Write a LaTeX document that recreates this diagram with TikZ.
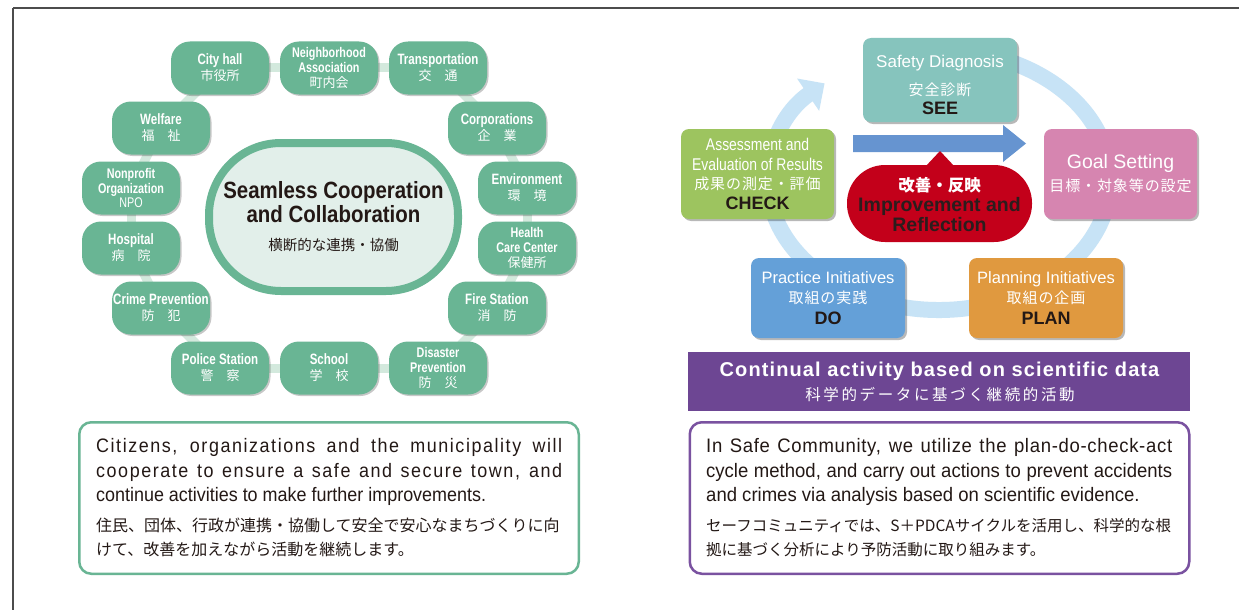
\documentclass[tikz,border=0pt]{standalone}
\usepackage{fontspec}
\setmainfont{Liberation Sans}
\newfontfamily\condfont[FakeStretch=0.77]{Liberation Sans}
\newfontfamily\chkfont[FakeStretch=0.82]{Liberation Sans}
\newfontfamily\bodyfont[FakeStretch=0.92]{Liberation Sans}
\newfontfamily\bodyrfont[FakeStretch=0.95]{Liberation Sans}
\newfontfamily\bodyrlsfont[FakeStretch=0.95,LetterSpace=3.5]{Liberation Sans}
\newfontfamily\bodylsfont[FakeStretch=0.92,LetterSpace=8]{Liberation Sans}
\newfontfamily\hubfont[FakeStretch=0.87]{Liberation Sans}
\newfontfamily\bannerfont[LetterSpace=5.5]{Liberation Sans}
\newfontfamily\jpfont{Noto Sans CJK JP}
\newfontfamily\jplfont[LetterSpace=6]{Noto Sans CJK JP}
\newfontfamily\jplsfont[LetterSpace=17]{Noto Sans CJK JP}
\usetikzlibrary{arrows.meta,shadows}
\pgfdeclarelayer{bg}
\pgfsetlayers{bg,main}
\definecolor{gbox}{HTML}{69B594}
\definecolor{gband}{HTML}{D3E9DD}
\definecolor{gcenter}{HTML}{E2EFEA}
\definecolor{txtdark}{HTML}{231815}
\definecolor{cSee}{HTML}{86C4BD}
\definecolor{cGoal}{HTML}{D685B0}
\definecolor{cCheck}{HTML}{9DC45F}
\definecolor{cDo}{HTML}{64A0D8}
\definecolor{cPlan}{HTML}{E0993F}
\definecolor{cRed}{HTML}{C3001A}
\definecolor{cPurple}{HTML}{6D4693}
\definecolor{cPurpleL}{HTML}{7A52A0}
\definecolor{cArrow}{HTML}{6694D0}
\definecolor{cRing}{HTML}{C7E3F6}
\definecolor{cImp}{HTML}{2B1D1D}
\newcommand\fsz[2]{\fontsize{#1}{#2}\selectfont}
\newcommand\jps[1]{{\jpfont\mdseries\fsz{13}{16}#1}}
\begin{document}
\begin{tikzpicture}[x=1pt,y=-1pt,
  gbx/.style={fill=gbox, rounded corners=19pt, minimum width=98pt, minimum height=53pt,
    inner sep=0pt, align=center, text=white, font=\condfont\bfseries\fsz{15}{16},
    drop shadow={shadow xshift=1.5pt, shadow yshift=-1.5pt, opacity=0.22, fill=black}},
  gbx3/.style={gbx, font=\condfont\bfseries\fsz{14}{14.8}},
  band/.style={draw=gband, line width=9pt},
  rbox/.style={rounded corners=8pt, inner sep=0pt,
    drop shadow={shadow xshift=2pt, shadow yshift=-2pt, opacity=0.28, fill=black}},
  rtxt/.style={align=center, inner sep=0pt, text=white},
  txt/.style={anchor=base west, inner sep=0pt, text=txtdark},
  ring/.style={draw=cRing, line width=16pt, -{Triangle[width=38pt,length=20pt]}},
  framel/.style={draw=black!70, line width=1.5pt}
]
\useasboundingbox (0,0) rectangle (1239,610);
\begin{pgfonlayer}{bg}
\fill[white] (0,0) rectangle (1239,610);
\end{pgfonlayer}
\draw[framel] (13,8) -- (1239,8);
\draw[framel] (13,8) -- (13,610);

% ---------------- left panel ----------------
\node[gbx] (city) at (220,68) {City hall\\\jps{市役所}};
\node[gbx3] (nbh) at (329,68) {Neighborhood\\Association\\\jps{町内会}};
\node[gbx] (trans) at (438,68) {Transportation\\\jps{交　通}};
\node[gbx] (corp) at (497,128) {Corporations\\\jps{企　業}};
\node[gbx] (env) at (527,188) {Environment\\\jps{環　境}};
\node[gbx3] (health) at (527,248) {Health\\Care Center\\\jps{保健所}};
\node[gbx] (fire) at (497,308) {Fire Station\\\jps{消　防}};
\node[gbx3] (dis) at (438,368) {Disaster\\Prevention\\\jps{防　災}};
\node[gbx] (school) at (329,368) {School\\\jps{学　校}};
\node[gbx] (police) at (220,368) {Police Station\\\jps{警　察}};
\node[gbx] (crime) at (161,308) {Crime Prevention\\\jps{防　犯}};
\node[gbx] (hosp) at (131,248) {Hospital\\\jps{病　院}};
\node[gbx3] (npo) at (131,188) {Nonprofit\\Organization\\{\condfont\mdseries NPO}};
\node[gbx] (welfare) at (161,128) {Welfare\\\jps{福　祉}};

\begin{pgfonlayer}{bg}
\foreach \a/\b in {city/nbh, nbh/trans, trans/corp, corp/env, env/health, health/fire,
  fire/dis, dis/school, school/police, police/crime, crime/hosp, hosp/npo, npo/welfare, welfare/city}
  \draw[band] (\a.center) -- (\b.center);
\end{pgfonlayer}

\node[draw=gbox, line width=8pt, fill=gcenter, rounded corners=72pt, minimum width=249pt,
  minimum height=148pt, inner sep=0pt, align=center, text=txtdark,
  font=\hubfont\bfseries\fsz{23.5}{23.5}] (hub) at (333.5,217)
  {Seamless Cooperation\\and Collaboration\\[5pt]{\jpfont\mdseries\fsz{14.5}{23.5}横断的な連携・協働}};

% bottom left text box
\node[draw=gbox, line width=2.5pt, rounded corners=12pt, minimum width=499.5pt,
  minimum height=151.5pt, inner sep=0pt] (lbox) at (329,498) {};
\node[txt, font=\bodylsfont\fsz{19.5}{20}] (l1) at (96,452)
  {\makebox[466pt][s]{Citizens, organizations and the municipality will}};
\node[txt, font=\bodylsfont\fsz{19.5}{20}] (l2) at (96,477)
  {\makebox[466pt][s]{cooperate to ensure a safe and secure town, and}};
\node[txt, font=\bodyfont\fsz{19.5}{20}] (l3) at (96,501)
  {continue activities to make further improvements.};
\node[txt, font=\jpfont\fsz{16}{20}] (l4) at (96,531)
  {住民、団体、行政が連携・協働して安全で安心なまちづくりに向};
\node[txt, font=\jpfont\fsz{16}{20}] (l5) at (96,555)
  {けて、改善を加えながら活動を継続します。};

% ---------------- right panel ----------------
\begin{pgfonlayer}{bg}
\draw[ring] (939,180) ++(-100:171 and 130)
  arc[start angle=-100, end angle=228, x radius=171, y radius=130];
\end{pgfonlayer}

\node[rbox, fill=cSee, minimum width=154pt, minimum height=84pt] (see) at (940,80) {};
\node[rtxt, font=\fsz{17}{19}] (seet) at ([yshift=-5pt]see.center)
  {Safety Diagnosis\\[9pt]{\jplfont\fsz{15}{19}安全診断}\\{\color{txtdark}\bfseries\fsz{18}{19}SEE}};

\node[rbox, fill=cGoal, minimum width=153pt, minimum height=90pt] (goal) at (1120.5,174) {};
\node[rtxt, font=\fsz{19.5}{23}] (goalt) at (goal.center)
  {Goal Setting\\{\jplfont\fsz{15}{23}目標・対象等の設定}};

\node[rbox, fill=cCheck, minimum width=153pt, minimum height=90pt] (check) at (757.5,174) {};
\node[rtxt, font=\chkfont\fsz{17}{19.5}] (checkt) at (check.center)
  {Assessment and\\Evaluation of Results\\{\jplfont\fsz{15}{19.5}成果の測定・評価}\\{\normalfont\bfseries\color{txtdark}\fsz{18}{19.5}CHECK}};

\node[rbox, fill=cDo, minimum width=154pt, minimum height=80pt] (do) at (828,298) {};
\node[rtxt, font=\fsz{16.5}{20.5}] (dot) at (do.center)
  {Practice Initiatives\\{\jplfont\fsz{15}{20.5}取組の実践}\\{\bfseries\color{txtdark}\fsz{18}{20.5}DO}};

\node[rbox, fill=cPlan, minimum width=154pt, minimum height=80pt] (plan) at (1046,298) {};
\node[rtxt, font=\fsz{16.5}{20.5}] (plant) at (plan.center)
  {Planning Initiatives\\{\jplfont\fsz{15}{20.5}取組の企画}\\{\bfseries\color{txtdark}\fsz{18}{20.5}PLAN}};

% blue arrow
\fill[cArrow] (853,135) -- (1003,135) -- (1003,125) -- (1026,143.5) -- (1003,162)
  -- (1003,152) -- (853,152) -- cycle;

% red speech bubble
\fill[cRed, rounded corners=38pt] (847,165) rectangle (1032,242);
\fill[cRed] (925,167) -- (940,151) -- (955,167) -- cycle;
\node[align=center, inner sep=0pt, text=cImp, font=\bfseries\fsz{19.5}{20}] (imp) at (939.5,204.5)
  {{\jpfont\color{white}\fsz{16.5}{20}改善・反映}\\Improvement and\\Reflection};

% purple banner
\node[fill=cPurple, minimum width=502pt, minimum height=59pt, inner sep=0pt] (banner) at (939,381.5) {};
\node[anchor=base, inner sep=0pt, text=white, font=\bannerfont\bfseries\fsz{20}{20}] (bt1) at (939.5,376)
  {Continual activity based on scientific data};
\node[anchor=base, inner sep=0pt, text=white, font=\jplsfont\fsz{15.5}{16}] (bt2) at (940,400)
  {科学的データに基づく継続的活動};

% bottom right text box
\node[draw=cPurpleL, line width=2.5pt, rounded corners=12pt, minimum width=499.5pt,
  minimum height=151.5pt, inner sep=0pt] (rbox) at (939.5,498) {};
\node[txt, font=\bodyrlsfont\fsz{19.5}{20}] (r1) at (706,452)
  {\makebox[466pt][s]{In Safe Community, we utilize the plan-do-check-act}};
\node[txt, font=\bodyrfont\fsz{19.5}{20}] (r2) at (706,477)
  {\makebox[466pt][s]{cycle method, and carry out actions to prevent accidents}};
\node[txt, font=\bodyrfont\fsz{19.5}{20}] (r3) at (706,501)
  {and crimes via analysis based on scientific evidence.};
\node[txt, font=\jpfont\fsz{15.5}{20}] (r4) at (706,531)
  {セーフコミュニティでは、S＋PDCAサイクルを活用し、科学的な根};
\node[txt, font=\jpfont\fsz{15.5}{20}] (r5) at (706,555)
  {拠に基づく分析により予防活動に取り組みます。};
\end{tikzpicture}
\end{document}
